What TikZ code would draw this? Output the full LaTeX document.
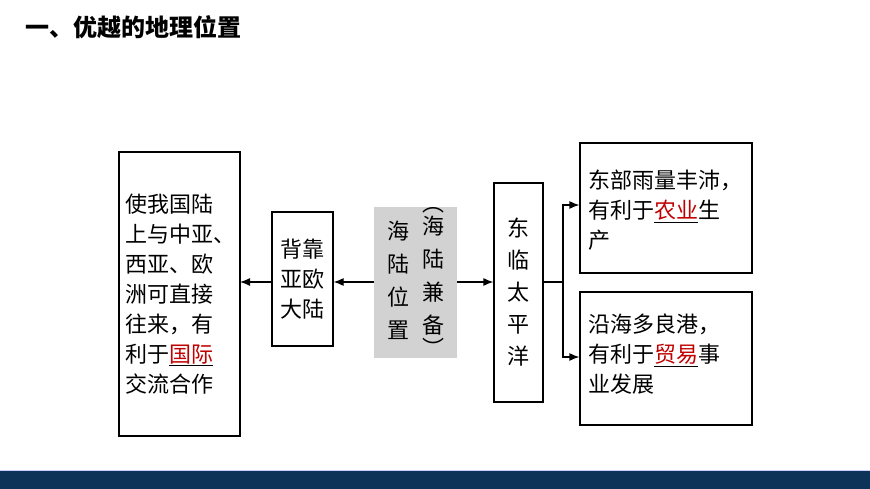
\documentclass[tikz,border=0pt]{standalone}
\usepackage{fontspec}
\setmainfont{Noto Sans CJK SC}
\usetikzlibrary{arrows.meta, positioning}
\definecolor{navy}{HTML}{0D3358}
\definecolor{keyred}{HTML}{C00000}
\newcommand{\keyword}[1]{\underline{\textcolor{keyred}{#1}}}
\begin{document}
\begin{tikzpicture}[x=1pt, y=-1pt,
    box/.style={draw, line width=1.2pt, inner sep=0pt},
    txt/.style={font=\fontsize{22}{30}\selectfont, align=left, inner sep=0pt},
    vtxt/.style={font=\fontsize{22}{30}\selectfont, align=center, inner sep=0pt},
    arrow/.style={-{Latex[length=10pt,width=8pt]}, line width=1.2pt}
  ]
  \useasboundingbox (0,0) rectangle (870,489);
  % title
  \node[anchor=west, font=\fontsize{24}{28}\selectfont\bfseries, inner sep=0pt] (title) at (25,27) {一、优越的地理位置};
  % boxes
  \draw[box] (119,152) rectangle (240,436);
  \coordinate (bigE) at (240,282);
  \node[txt] (bigtext) at (180,294) {使我国陆\\上与中亚、\\西亚、欧\\洲可直接\\往来，有\\利于\keyword{国际}\\交流合作};
  \node[box, minimum width=61pt, minimum height=134pt] (back) at (302.5,279) {};
  \node[vtxt] at (back.center) {背靠\\亚欧\\大陆};
  \node[fill=gray!35, minimum width=83pt, minimum height=151pt, inner sep=0pt] (center) at (415.5,282.5) {};
  \node[vtxt, font=\fontsize{22}{33}\selectfont] at (398,280) {海\\陆\\位\\置};
  \node[vtxt, font=\fontsize{22}{33}\selectfont] at (433,282) {︵\\[-10pt]海\\陆\\兼\\备\\[-10pt]︶};
  \node[box, minimum width=49pt, minimum height=219pt] (east) at (518.5,292.5) {};
  \node[vtxt, font=\fontsize{22}{32}\selectfont] at (east.center) {东\\临\\太\\平\\洋};
  \node[box, minimum width=172pt, minimum height=130pt] (agri) at (666,208) {};
  \node[txt, anchor=north west] at (588,170) {东部雨量丰沛，\\有利于\keyword{农业}生\\产};
  \node[box, minimum width=172pt, minimum height=133pt] (trade) at (666,358.5) {};
  \node[txt, anchor=north west] at (588,314) {沿海多良港，\\有利于\keyword{贸易}事\\业发展};
  % connectors
  \coordinate (fork) at (563,282);
  \draw[arrow] (center.west |- 0,282) -- (back.east |- 0,282);
  \draw[arrow] (back.west |- 0,282) -- (bigE);
  \draw[arrow] (center.east |- 0,282) -- (east.west |- 0,282);
  \draw[line width=1.2pt] (east.east |- 0,282) -- (fork);
  \draw[arrow] (fork) |- (agri.west |- 0,205);
  \draw[arrow] (fork) |- (trade.west |- 0,357);
  % bottom bar
  \fill[navy] (0,470) rectangle (870,489);
  \draw[blue!20, line width=0.8pt] (0,470) -- (870,470);
\end{tikzpicture}
\end{document}
